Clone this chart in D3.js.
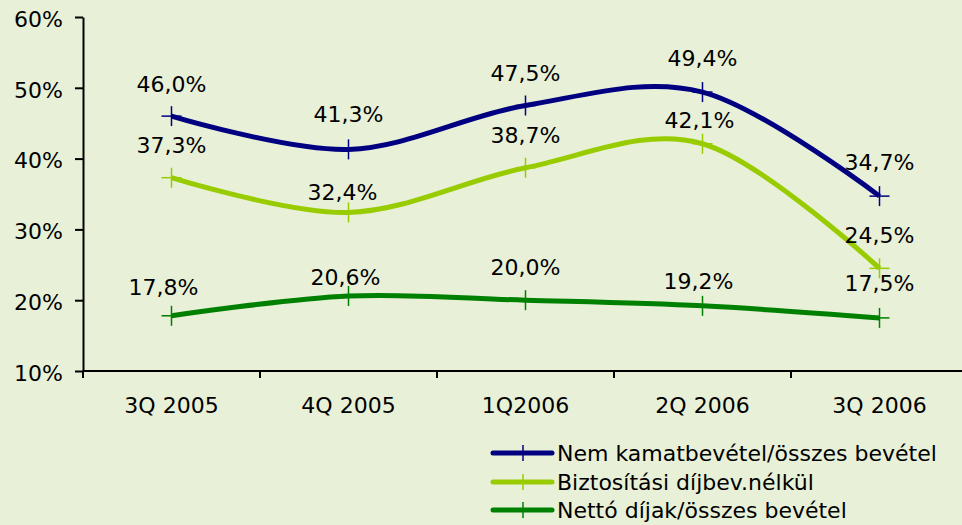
<!DOCTYPE html>
<meta charset="utf-8">
<html>
<head>
<title>bevetel</title>
<script src="https://d3js.org/d3.v7.min.js"></script>
<style>
  body { margin: 0; background: #e8f0d8; }
  svg { display: block; font-family: "DejaVu Sans", Verdana, sans-serif; }
</style>
</head>
<body>
<div id="chart"></div>
<script>
/* data */
var quarters = ["3Q 2005", "4Q 2005", "1Q2006", "2Q 2006", "3Q 2006"];
var nemKamat = [46.0, 41.3, 47.5, 49.4, 34.7];
var biztositasi = [37.3, 32.4, 38.7, 42.1, 24.5];
var nettoDijak = [17.8, 20.6, 20.0, 19.2, 17.5];
var seriesNames = ["Nem kamatbevétel/összes bevétel", "Biztosítási díjbev.nélkül", "Nettó díjak/összes bevétel"];
var yTicks = [10, 20, 30, 40, 50, 60];

/* layout (note: "top" is taken by window.top, so plot_* names) */
var totalWidth = 962, totalHeight = 525,
    plot_left = 83, plot_right = 968, plot_top = 17, plot_bottom = 371,
    colors = ["#000080", "#99cc00", "#008000"],
    fontSize = "22px";

// label nudges [dx, dy] per series per point (labels in the original were hand placed)
var labelNudge = [
  [[0, -24], [0, -27], [0, -25], [0, -26], [0, -26]],
  [[0, -25], [-6, -12], [0, -25], [-3, -16], [0, -25]],
  [[-8, -21], [-3, -11], [0, -25], [-4, -17], [0, -27]]
];

var svg = d3.select("#chart").append("svg")
    .attr("width", totalWidth)
    .attr("height", totalHeight);

svg.append("rect").attr("width", totalWidth).attr("height", totalHeight).attr("fill", "#e8f0d8");

var x = d3.scaleBand().domain(quarters).range([plot_left, plot_right]).padding(0);
var y = d3.scaleLinear().domain([10, 60]).range([plot_bottom, plot_top]);
var cx = function(q){ return x(q) + x.bandwidth() / 2; };

/* y axis */
var yAxis = svg.append("g")
    .attr("transform", "translate(" + plot_left + ",0)")
    .call(d3.axisLeft(y).tickValues(yTicks).tickSize(8).tickSizeOuter(0).tickPadding(12)
        .tickFormat(function(d){ return d + "%"; }));
yAxis.select(".domain").attr("stroke", "#000").attr("stroke-width", 2);
yAxis.selectAll(".tick line").attr("stroke", "#000").attr("stroke-width", 2);
yAxis.selectAll(".tick text").attr("font-size", fontSize).attr("fill", "#000")
    .attr("font-family", "DejaVu Sans").attr("dy", "0.42em");

/* x axis */
var xg = svg.append("g");
xg.append("line").attr("x1", plot_left).attr("x2", plot_right).attr("y1", plot_bottom).attr("y2", plot_bottom)
    .attr("stroke", "#000").attr("stroke-width", 2);
xg.selectAll(".xtick").data(quarters).enter().append("line")
    .attr("x1", function(d){ return x(d); }).attr("x2", function(d){ return x(d); })
    .attr("y1", plot_bottom).attr("y2", plot_bottom + 7)
    .attr("stroke", "#000").attr("stroke-width", 2);
xg.selectAll(".xlabel").data(quarters).enter().append("text")
    .attr("x", cx).attr("y", plot_bottom + 42)
    .attr("text-anchor", "middle").attr("font-size", fontSize).attr("fill", "#000")
    .text(function(d){ return d; });

/* lines */
var allSeries = [nemKamat, biztositasi, nettoDijak];
var line = d3.line()
    .x(function(d, i){ return cx(quarters[i]); })
    .y(function(d){ return y(d); })
    .curve(d3.curveCardinal.tension(0));

allSeries.forEach(function(vals, s){
    svg.append("path").datum(vals)
        .attr("d", line)
        .attr("fill", "none")
        .attr("stroke", colors[s])
        .attr("stroke-width", 5)
        .attr("stroke-linejoin", "round");

    var g = svg.append("g");
    vals.forEach(function(v, i){
        var px = cx(quarters[i]), py = y(v);
        g.append("line").attr("x1", px - 10).attr("x2", px + 10).attr("y1", py).attr("y2", py)
            .attr("stroke", colors[s]).attr("stroke-width", 1.5);
        g.append("line").attr("x1", px).attr("x2", px).attr("y1", py - 10).attr("y2", py + 10)
            .attr("stroke", colors[s]).attr("stroke-width", 1.5);
        g.append("text")
            .attr("x", px + labelNudge[s][i][0]).attr("y", py + labelNudge[s][i][1])
            .attr("text-anchor", "middle").attr("font-size", fontSize).attr("fill", "#000")
            .text(v.toFixed(1).replace(".", ",") + "%");
    });
});

/* legend */
var legendY = [453, 482, 510];
var legend = svg.append("g");
seriesNames.forEach(function(name, s){
    var ly = legendY[s];
    legend.append("line").attr("x1", 493).attr("x2", 552).attr("y1", ly).attr("y2", ly)
        .attr("stroke", colors[s]).attr("stroke-width", 5).attr("stroke-linecap", "round");
    legend.append("line").attr("x1", 523).attr("x2", 523).attr("y1", ly - 8).attr("y2", ly + 8)
        .attr("stroke", colors[s]).attr("stroke-width", 1.5);
    legend.append("text").attr("x", 557).attr("y", ly).attr("dy", "0.36em")
        .attr("font-size", fontSize).attr("fill", "#000").text(name);
});
</script>
</body>
</html>
